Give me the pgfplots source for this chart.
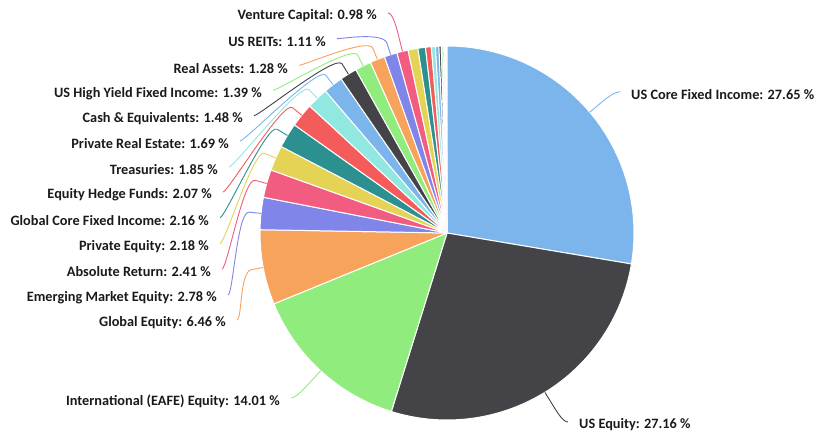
\documentclass[border=0pt]{standalone}
\usepackage{pgfplots}
\usepackage{pgfplotstable}
\pgfplotsset{compat=1.18}
\usepackage{fontspec}
\setmainfont{Carlito}
\definecolor{c0}{HTML}{7CB5EC}
\definecolor{c1}{HTML}{434348}
\definecolor{c2}{HTML}{90ED7D}
\definecolor{c3}{HTML}{F7A35C}
\definecolor{c4}{HTML}{8085E9}
\definecolor{c5}{HTML}{F15C80}
\definecolor{c6}{HTML}{E4D354}
\definecolor{c7}{HTML}{2B908F}
\definecolor{c8}{HTML}{F45B5B}
\definecolor{c9}{HTML}{91E8E1}
\definecolor{labtext}{HTML}{1A1A1A}

% value, colour, label, connector start (x, y), side (1 = label on the left, -1 = right)
\pgfplotstableread{
value color name lx ly side
27.65 c0 {US Core Fixed Income} 620 342.3 -1
27.16 c1 {US Equity} 568 12 -1
14.01 c2 {International (EAFE) Equity} 291 36 1
6.46 c3 {Global Equity} 237 114 1
2.78 c4 {Emerging Market Equity} 228 139 1
2.41 c5 {Absolute Return} 222 165 1
2.18 c6 {Private Equity} 220 190.5 1
2.16 c7 {Global Core Fixed Income} 220 216.3 1
2.07 c8 {Equity Hedge Funds} 223 242 1
1.85 c9 {Treasuries} 229 267 1
1.69 c0 {Private Real Estate} 240 293 1
1.48 c1 {Cash \& Equivalents} 254 318.3 1
1.39 c2 {US High Yield Fixed Income} 273 343.7 1
1.28 c3 {Real Assets} 299 368.7 1
1.11 c4 {US REITs} 337 395.3 1
0.98 c5 {Venture Capital} 388 421 1
0.85 c6 {} 0 0 0
0.65 c7 {} 0 0 0
0.50 c8 {} 0 0 0
0.35 c9 {} 0 0 0
0.30 c0 {} 0 0 0
0.20 c1 {} 0 0 0
0.15 c2 {} 0 0 0
0.12 c3 {} 0 0 0
0.10 c4 {} 0 0 0
0.07 c5 {} 0 0 0
}\slices

\begin{document}
\begin{tikzpicture}
\begin{axis}[
  width=815pt, height=434pt, scale only axis,
  xmin=0, xmax=815, ymin=0, ymax=434,
  hide axis, clip=false,
]
\path (axis cs:0,0) rectangle (axis cs:815,434);
\def\cx{447}\def\cy{201}\def\rr{187}\def\dd{12}
\pgfplotstablegetrowsof{\slices}
\pgfmathtruncatemacro\N{\pgfplotsretval-1}
\def\cum{0}
% slices
\pgfplotsforeachungrouped \i in {0,...,\N}{%
  \pgfplotstablegetelem{\i}{value}\of\slices \let\v\pgfplotsretval
  \pgfplotstablegetelem{\i}{color}\of\slices \let\c\pgfplotsretval
  \pgfmathsetmacro\a{90-3.6*\cum}%
  \pgfmathsetmacro\b{90-3.6*(\cum+\v)}%
  \pgfmathsetmacro\cum{\cum+\v}%
  \edef\cmd{\noexpand\fill[\c, draw=white, line width=1pt, line join=round]
    (axis cs:\cx,\cy) -- ++(\a:\rr pt) arc[start angle=\a, end angle=\b, radius=\rr pt] -- cycle;}%
  \cmd
}
% connectors and labels
\def\cum{0}
\pgfplotsforeachungrouped \i in {0,...,15}{%
  \pgfplotstablegetelem{\i}{value}\of\slices \let\v\pgfplotsretval
  \pgfplotstablegetelem{\i}{color}\of\slices \let\c\pgfplotsretval
  \pgfplotstablegetelem{\i}{name}\of\slices \let\nm\pgfplotsretval
  \pgfplotstablegetelem{\i}{lx}\of\slices \let\lx\pgfplotsretval
  \pgfplotstablegetelem{\i}{ly}\of\slices \let\ly\pgfplotsretval
  \pgfplotstablegetelem{\i}{side}\of\slices \let\sd\pgfplotsretval
  \pgfmathsetmacro\m{90-3.6*(\cum+\v/2)}%
  \pgfmathsetmacro\cum{\cum+\v}%
  \pgfmathsetmacro\tx{\cx+\rr*cos(\m)}%
  \pgfmathsetmacro\ty{\cy+\rr*sin(\m)}%
  \pgfmathsetmacro\bx{\cx+(\rr+\dd)*cos(\m)}%
  \pgfmathsetmacro\by{\cy+(\rr+\dd)*sin(\m)}%
  \pgfmathsetmacro\ccx{\cx+(\rr+2*\dd)*cos(\m)}%
  \pgfmathsetmacro\ccy{\cy+(\rr+2*\dd)*sin(\m)}%
  \pgfmathsetmacro\kx{\lx+5*\sd}%
  \pgfmathsetmacro\nx{\lx-11*\sd}%
  \pgfmathsetmacro\ny{\ly-3}%
  \ifdim\sd pt>0pt \def\anc{east}\else\def\anc{west}\fi
  \edef\cmd{\noexpand\draw[\c, line width=0.9pt]
    (axis cs:\lx,\ly) .. controls (axis cs:\kx,\ly) and (axis cs:\ccx,\ccy) .. (axis cs:\bx,\by) -- (axis cs:\tx,\ty);
    \noexpand\node[anchor=\anc, inner sep=0pt, text=labtext, font=\noexpand\bfseries\noexpand\fontsize{14.3}{16}\noexpand\selectfont]
      at (axis cs:\nx,\ny) {\unexpanded\expandafter{\nm}: \v{} \noexpand\%};}%
  \cmd
}
\end{axis}
\end{tikzpicture}
\end{document}
